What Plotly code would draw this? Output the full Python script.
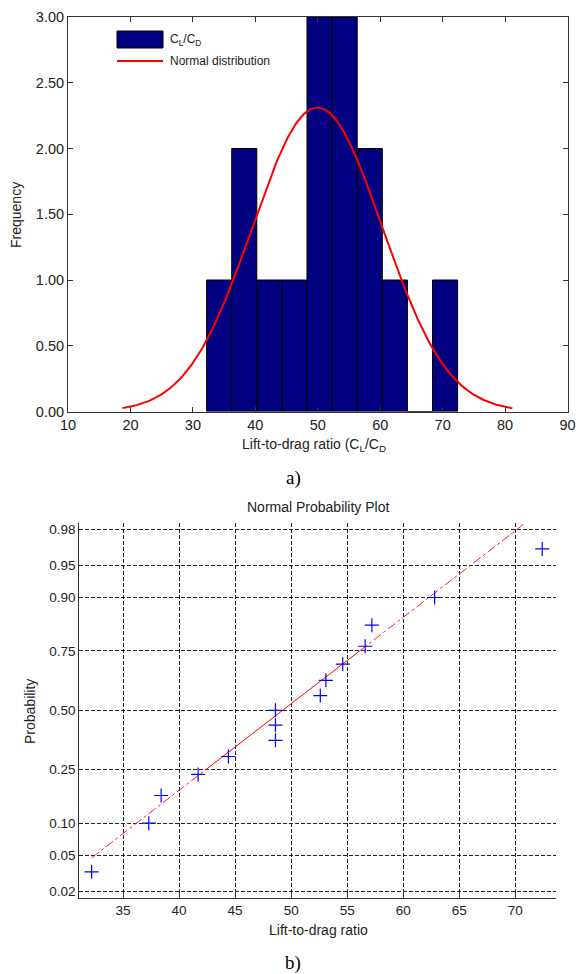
import numpy as np
import plotly.graph_objects as go
from statistics import NormalDist

# ---------------- data ----------------
ratio_values = [32.2, 37.3, 38.4, 41.7, 44.4, 48.6, 48.6, 48.6,
                52.6, 53.1, 54.6, 56.6, 57.2, 62.8, 72.4]
n_bins = 10
hist_xticks = [10, 20, 30, 40, 50, 60, 70, 80, 90]
hist_yticks = [0.0, 0.5, 1.0, 1.5, 2.0, 2.5, 3.0]
prob_xticks = [35, 40, 45, 50, 55, 60, 65, 70]
prob_yticks = [0.02, 0.05, 0.10, 0.25, 0.50, 0.75, 0.90, 0.95, 0.98]

# ---------------- derived quantities ----------------
W, H = 576, 974
def fx(px):
    return px / W
def fy(py):
    return 1 - py / H

data = np.array(sorted(ratio_values))
n = len(data)
counts, edges = np.histogram(data, bins=n_bins)
centers = (edges[:-1] + edges[1:]) / 2
bw = edges[1] - edges[0]

mu = data.mean()
sigma = data.std(ddof=1)
nd = NormalDist()
fit = NormalDist(mu, sigma)
xc = np.linspace(mu - 3 * sigma, mu + 3 * sigma, 300)
yc = [n * bw * fit.pdf(v) for v in xc]

p = (np.arange(1, n + 1) - 0.5) / n
z = [nd.inv_cdf(v) for v in p]

def prctile(x, q):
    pos = q / 100 * n + 0.5
    lo = int(np.floor(pos))
    fr = pos - lo
    return x[lo - 1] + fr * (x[lo] - x[lo - 1])

q1, q3 = prctile(data, 25), prctile(data, 75)
z1, z3 = nd.inv_cdf(0.25), nd.inv_cdf(0.75)
slope = (z3 - z1) / (q3 - q1)
def ref(v):
    return z1 + slope * (v - q1)

ylim2 = -nd.inv_cdf(0.25 / n)

fig = go.Figure()

fig.add_trace(go.Bar(x=centers, y=counts, width=bw,
                     marker=dict(color="#000080", line=dict(color="black", width=1)),
                     xaxis="x", yaxis="y", showlegend=False))
fig.add_trace(go.Scatter(x=xc, y=yc, mode="lines",
                         line=dict(color="#ff0000", width=2),
                         xaxis="x", yaxis="y", showlegend=False))

# reference line (dash-dot extensions, solid between quartiles)
fig.add_trace(go.Scatter(x=[data[0], q1, None, q3, data[-1]],
                         y=[ref(data[0]), ref(q1), None, ref(q3), ref(data[-1])],
                         mode="lines", line=dict(color="#ff2020", width=1, dash="dashdot"),
                         xaxis="x2", yaxis="y2", showlegend=False))
fig.add_trace(go.Scatter(x=[q1, q3], y=[ref(q1), ref(q3)], mode="lines",
                         line=dict(color="#ff0000", width=1),
                         xaxis="x2", yaxis="y2", showlegend=False))
fig.add_trace(go.Scatter(x=data, y=z, mode="markers",
                         marker=dict(symbol="cross-thin", size=10,
                                     line=dict(color="#0000ff", width=1.2)),
                         xaxis="x2", yaxis="y2", showlegend=False))

axcol = "#333333"
tickfont_top = dict(family="Liberation Sans, Arial, sans-serif", size=14.5, color="#222")
tickfont_bot = dict(family="Liberation Sans, Arial, sans-serif", size=13.5, color="#222")

fig.update_layout(
    template="none",
    width=W, height=H,
    margin=dict(l=0, r=0, t=0, b=0, pad=0, autoexpand=False),
    paper_bgcolor="white", plot_bgcolor="white",
    showlegend=False,
    xaxis=dict(domain=[fx(68), fx(567.5)], range=[10, 90], anchor="y", automargin=False,
               tickvals=hist_xticks, ticks="inside", ticklen=5, tickcolor=axcol,
               showline=True, linecolor=axcol, linewidth=1, mirror="ticks",
               showgrid=False, zeroline=False, tickfont=tickfont_top),
    yaxis=dict(domain=[fy(411.5), fy(17)], range=[0, 3], anchor="x", automargin=False,
               tickvals=hist_yticks, tickformat=".2f", ticks="inside", ticklen=5,
               tickcolor=axcol, showline=True, linecolor=axcol, linewidth=1,
               mirror="ticks", showgrid=False, zeroline=False, tickfont=tickfont_top),
    xaxis2=dict(domain=[fx(79.3), fx(555.7)], range=[31.1, 73.6], anchor="y2", automargin=False,
                tickvals=prob_xticks, ticks="inside", ticklen=5, tickcolor=axcol,
                showline=True, linecolor=axcol, linewidth=1.3, mirror=False,
                showgrid=True, gridcolor="#222", gridwidth=1, griddash="4px,2px",
                zeroline=False, tickfont=tickfont_bot),
    yaxis2=dict(domain=[fy(897.7), fy(523)], range=[-ylim2, ylim2], anchor="x2", automargin=False,
                tickvals=[nd.inv_cdf(v) for v in prob_yticks],
                ticktext=["%.2f" % v for v in prob_yticks],
                ticks="", showline=True, linecolor=axcol, linewidth=1.3, mirror=False,
                showgrid=True, gridcolor="#222", gridwidth=1, griddash="4px,2px",
                zeroline=False, tickfont=tickfont_bot),
)

font_lbl = "Liberation Sans, Arial, sans-serif"
ann = [
    dict(text="Frequency", x=fx(16), y=fy(215), textangle=-90, size=14),
    dict(text="Lift-to-drag ratio (C<sub>L</sub>/C<sub>D</sub>", x=fx(314), y=fy(445), size=14),
    dict(text="Normal Probability Plot", x=fx(318), y=fy(507), size=14),
    dict(text="Probability", x=fx(30), y=fy(712), textangle=-90, size=14),
    dict(text="Lift-to-drag ratio", x=fx(318), y=fy(930), size=14),
    dict(text="C<sub>L</sub>/C<sub>D</sub>", x=fx(168), y=fy(40), size=12, xanchor="left"),
    dict(text="Normal distribution", x=fx(168), y=fy(61), size=12, xanchor="left"),
]
annotations = []
for a in ann:
    annotations.append(dict(text=a["text"], x=a["x"], y=a["y"], xref="paper", yref="paper",
                            xanchor=a.get("xanchor", "center"), yanchor="middle",
                            textangle=a.get("textangle", 0), showarrow=False,
                            font=dict(family=font_lbl, size=a["size"], color="#222")))
annotations.append(dict(text="a)", x=fx(293), y=fy(478), xref="paper", yref="paper",
                        showarrow=False, xanchor="center", yanchor="middle",
                        font=dict(family="Liberation Serif, Times New Roman, serif", size=19, color="black")))
annotations.append(dict(text="b)", x=fx(293), y=fy(963), xref="paper", yref="paper",
                        showarrow=False, xanchor="center", yanchor="middle",
                        font=dict(family="Liberation Serif, Times New Roman, serif", size=19, color="black")))
fig.update_layout(annotations=annotations)

fig.update_layout(shapes=[
    dict(type="rect", xref="paper", yref="paper", x0=fx(117), x1=fx(163), y0=fy(48), y1=fy(31),
         fillcolor="#000080", line=dict(color="black", width=1)),
    dict(type="line", xref="paper", yref="paper", x0=fx(117), x1=fx(163), y0=fy(61), y1=fy(61),
         line=dict(color="#ff0000", width=2)),
])

fig.write_html("out.html", config={"displayModeBar": False},
               post_script="document.body.style.margin='0';document.body.style.overflow='hidden';")
